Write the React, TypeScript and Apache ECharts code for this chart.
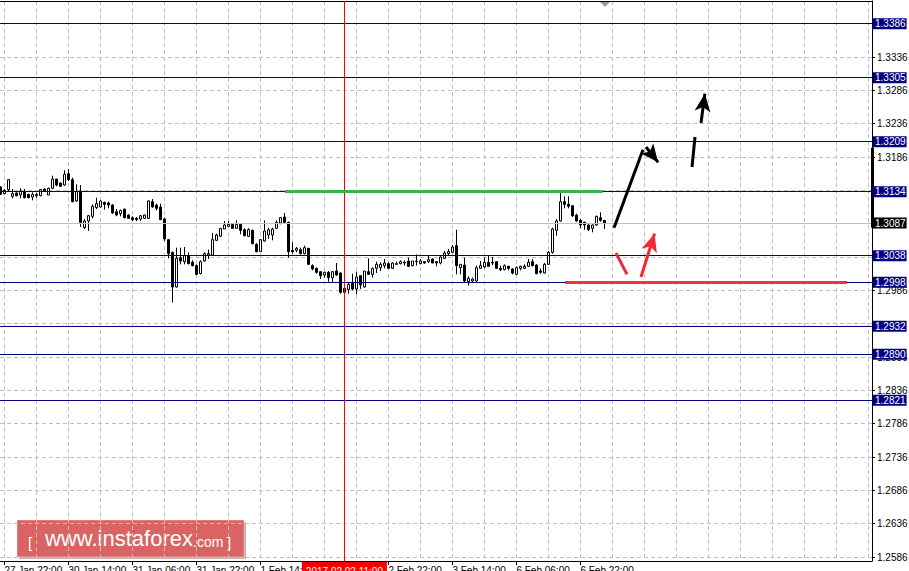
import React, { useEffect, useRef } from 'react';
import * as echarts from 'echarts';

// ---- Candles (H1), bar index 0 = 27 Jan 21:00 ----
const opens = [
  1.3141, 1.3131, 1.3137, 1.3127, 1.3132, 1.3129, 1.3134, 1.3130, 1.3126, 1.3128,
  1.3128, 1.3138, 1.3129, 1.3139, 1.3153, 1.3147, 1.3144, 1.3161, 1.3152, 1.3120,
  1.3135, 1.3080, 1.3090, 1.3097, 1.3110, 1.3111, 1.3118, 1.3117, 1.3114, 1.3104,
  1.3101, 1.3108, 1.3099, 1.3095, 1.3094, 1.3093, 1.3094, 1.3094, 1.3119, 1.3114,
  1.3111, 1.3093, 1.3062, 1.3043, 1.2991, 1.3035, 1.3029, 1.3038, 1.3028, 1.3023,
  1.3011, 1.3030, 1.3039, 1.3039, 1.3061, 1.3067, 1.3078, 1.3082, 1.3085, 1.3079,
  1.3085, 1.3077, 1.3067, 1.3076, 1.3055, 1.3044, 1.3060, 1.3069, 1.3069, 1.3079,
  1.3087, 1.3096, 1.3088, 1.3046, 1.3046, 1.3047, 1.3041, 1.3049, 1.3023, 1.3019,
  1.3014, 1.3009, 1.3013, 1.3005, 1.3015, 1.3012, 1.2989, 1.2987, 1.2997, 1.2988,
  1.3008, 1.2991, 1.3014, 1.3010, 1.3019, 1.3020, 1.3023, 1.3026, 1.3019, 1.3025,
  1.3026, 1.3028, 1.3030, 1.3023, 1.3030, 1.3026, 1.3029, 1.3029, 1.3033, 1.3029,
  1.3027, 1.3034, 1.3041, 1.3043, 1.3053, 1.3020, 1.3024, 1.2999, 1.3000, 1.3000,
  1.3019, 1.3021, 1.3028, 1.3028, 1.3029, 1.3019, 1.3017, 1.3022, 1.3018, 1.3010,
  1.3019, 1.3019, 1.3022, 1.3029, 1.3024, 1.3015, 1.3012, 1.3025, 1.3043, 1.3076,
  1.3090, 1.3119, 1.3115, 1.3113, 1.3099, 1.3091, 1.3088, 1.3084, 1.3079, 1.3084,
  1.3095, 1.3091,
];
const closes = [
  1.3130, 1.3136, 1.3152, 1.3131, 1.3128, 1.3135, 1.3125, 1.3125, 1.3130, 1.3130,
  1.3137, 1.3135, 1.3139, 1.3153, 1.3144, 1.3142, 1.3160, 1.3152, 1.3119, 1.3134,
  1.3088, 1.3090, 1.3098, 1.3112, 1.3116, 1.3120, 1.3115, 1.3114, 1.3102, 1.3099,
  1.3106, 1.3095, 1.3094, 1.3092, 1.3092, 1.3098, 1.3099, 1.3120, 1.3111, 1.3109,
  1.3092, 1.3063, 1.3041, 1.2991, 1.3034, 1.3030, 1.3038, 1.3026, 1.3023, 1.3010,
  1.3029, 1.3041, 1.3041, 1.3062, 1.3069, 1.3079, 1.3084, 1.3085, 1.3079, 1.3085,
  1.3076, 1.3068, 1.3077, 1.3056, 1.3044, 1.3062, 1.3075, 1.3077, 1.3078, 1.3088,
  1.3095, 1.3088, 1.3044, 1.3044, 1.3049, 1.3041, 1.3050, 1.3025, 1.3018, 1.3013,
  1.3008, 1.3013, 1.3005, 1.3014, 1.3009, 1.2983, 1.2983, 1.2995, 1.2988, 1.3006,
  1.2994, 1.3015, 1.3010, 1.3019, 1.3025, 1.3025, 1.3027, 1.3019, 1.3027, 1.3026,
  1.3029, 1.3027, 1.3022, 1.3030, 1.3029, 1.3030, 1.3027, 1.3032, 1.3027, 1.3027,
  1.3036, 1.3042, 1.3044, 1.3051, 1.3023, 1.3025, 1.3000, 1.3004, 1.3003, 1.3020,
  1.3023, 1.3028, 1.3022, 1.3027, 1.3019, 1.3017, 1.3023, 1.3019, 1.3012, 1.3020,
  1.3022, 1.3022, 1.3028, 1.3023, 1.3011, 1.3013, 1.3025, 1.3043, 1.3078, 1.3090,
  1.3119, 1.3115, 1.3112, 1.3098, 1.3090, 1.3084, 1.3084, 1.3077, 1.3084, 1.3097,
  1.3091, 1.3087,
];
const lows = [
  1.3129, 1.3130, 1.3135, 1.3124, 1.3127, 1.3124, 1.3124, 1.3124, 1.3121, 1.3125,
  1.3127, 1.3134, 1.3129, 1.3138, 1.3142, 1.3141, 1.3143, 1.3150, 1.3118, 1.3119,
  1.3081, 1.3078, 1.3075, 1.3094, 1.3108, 1.3110, 1.3107, 1.3109, 1.3101, 1.3097,
  1.3097, 1.3094, 1.3093, 1.3090, 1.3090, 1.3090, 1.3093, 1.3093, 1.3110, 1.3106,
  1.3092, 1.3060, 1.3034, 1.2968, 1.2990, 1.3025, 1.3025, 1.3025, 1.3022, 1.3009,
  1.3010, 1.3029, 1.3033, 1.3039, 1.3060, 1.3066, 1.3078, 1.3081, 1.3079, 1.3079,
  1.3070, 1.3067, 1.3066, 1.3055, 1.3043, 1.3044, 1.3059, 1.3063, 1.3061, 1.3078,
  1.3085, 1.3086, 1.3035, 1.3041, 1.3043, 1.3040, 1.3040, 1.3024, 1.3016, 1.3011,
  1.3003, 1.3005, 1.2999, 1.2998, 1.3008, 1.2981, 1.2981, 1.2981, 1.2986, 1.2980,
  1.2988, 1.2990, 1.3009, 1.3005, 1.3012, 1.3015, 1.3019, 1.3019, 1.3018, 1.3024,
  1.3025, 1.3023, 1.3021, 1.3022, 1.3023, 1.3025, 1.3026, 1.3027, 1.3027, 1.3022,
  1.3025, 1.3033, 1.3039, 1.3042, 1.3010, 1.3010, 1.2998, 1.2993, 1.2998, 1.2999,
  1.3018, 1.3019, 1.3021, 1.3024, 1.3018, 1.3015, 1.3016, 1.3016, 1.3010, 1.3010,
  1.3016, 1.3018, 1.3021, 1.3022, 1.3010, 1.3011, 1.3011, 1.3024, 1.3041, 1.3068,
  1.3089, 1.3109, 1.3109, 1.3096, 1.3089, 1.3079, 1.3077, 1.3075, 1.3073, 1.3083,
  1.3089, 1.3078,
];
const highs = [
  1.3142, 1.3138, 1.3153, 1.3138, 1.3133, 1.3139, 1.3138, 1.3131, 1.3133, 1.3132,
  1.3138, 1.3139, 1.3140, 1.3158, 1.3153, 1.3148, 1.3166, 1.3168, 1.3155, 1.3145,
  1.3144, 1.3093, 1.3099, 1.3115, 1.3125, 1.3121, 1.3119, 1.3119, 1.3115, 1.3108,
  1.3107, 1.3108, 1.3100, 1.3097, 1.3096, 1.3099, 1.3100, 1.3121, 1.3123, 1.3116,
  1.3116, 1.3095, 1.3063, 1.3044, 1.3050, 1.3050, 1.3051, 1.3043, 1.3031, 1.3025,
  1.3031, 1.3043, 1.3047, 1.3072, 1.3071, 1.3079, 1.3090, 1.3090, 1.3086, 1.3091,
  1.3086, 1.3079, 1.3079, 1.3077, 1.3057, 1.3063, 1.3091, 1.3080, 1.3080, 1.3091,
  1.3095, 1.3102, 1.3089, 1.3058, 1.3051, 1.3050, 1.3053, 1.3049, 1.3025, 1.3020,
  1.3014, 1.3014, 1.3015, 1.3015, 1.3027, 1.3013, 1.2990, 1.2997, 1.3011, 1.3014,
  1.3008, 1.3015, 1.3034, 1.3020, 1.3029, 1.3028, 1.3033, 1.3028, 1.3028, 1.3029,
  1.3031, 1.3031, 1.3035, 1.3030, 1.3040, 1.3033, 1.3029, 1.3038, 1.3034, 1.3030,
  1.3037, 1.3045, 1.3048, 1.3054, 1.3077, 1.3025, 1.3035, 1.3007, 1.3005, 1.3023,
  1.3030, 1.3035, 1.3038, 1.3036, 1.3029, 1.3023, 1.3025, 1.3023, 1.3019, 1.3022,
  1.3023, 1.3025, 1.3033, 1.3033, 1.3025, 1.3019, 1.3027, 1.3045, 1.3080, 1.3093,
  1.3133, 1.3127, 1.3127, 1.3114, 1.3101, 1.3093, 1.3089, 1.3085, 1.3085, 1.3098,
  1.3103, 1.3091,
];

// ---- Axes ----
const xTickBars = [1, 17, 33, 49, 65, 81, 97, 113, 129, 145];
const xLabelBars = [1, 17, 33, 49, 65, 97, 113, 129, 145];
const xLabelTexts = [
  '27 Jan 22:00', '30 Jan 14:00', '31 Jan 06:00', '31 Jan 22:00', '1 Feb 14:00',
  '2 Feb 22:00', '3 Feb 14:00', '6 Feb 06:00', '6 Feb 22:00',
];
const xGridBars = [1, 9, 17, 25, 33, 41, 49, 57, 65, 73, 81, 89, 97, 105, 113, 121, 129, 137, 145, 153, 161, 169, 177, 185, 193, 201, 209, 217];
const yTickValues = [1.2586, 1.2636, 1.2686, 1.2736, 1.2786, 1.2836, 1.2886, 1.2936, 1.2986, 1.3036, 1.3086, 1.3136, 1.3186, 1.3236, 1.3286, 1.3336, 1.3386];
const yLabelValues = [1.2586, 1.2636, 1.2686, 1.2736, 1.2786, 1.2836, 1.2886, 1.2986, 1.3186, 1.3236, 1.3286, 1.3336];

// ---- Levels & annotations ----
const levelPrices = [1.3386, 1.3305, 1.3209, 1.3134, 1.3038, 1.2998, 1.2932, 1.2890, 1.2821];
const bidPrice = 1.3087;
const cursorBar = 86;
const cursorText = '2017.02.02 11:00';
const resistanceSeg = [[71.15, 1.3134], [150.6, 1.3134]];
const supportSeg = [[141.15, 1.2998], [211.65, 1.2998]];
const blackStrokes = [
  [[153.4, 1.3080], [160.65, 1.3197]],
  [[172.9, 1.3171], [173.65, 1.3216]],
];
const blackArrows = [
  [[161.4, 1.3201], [164.43, 1.3178]],
  [[175.15, 1.3237], [176.12, 1.3281]],
];
const redStrokes = [[[153.9, 1.3042], [156.65, 1.3010]]];
const redArrows = [[[160.15, 1.3006], [163.55, 1.3071]]];
const axisMarker = [[217.9, 1.3080], [217.9, 1.3200]];

const X_MIN = -0.1;
const X_MAX = 217.9;
const Y_MIN = 1.258;
const Y_MAX = 1.342;

const FONT = '"Liberation Sans", Arial, sans-serif';
const NAVY = '#000080';
const FS = 10;

export default function App() {
  const ref = useRef<HTMLDivElement>(null);

  useEffect(() => {
    if (!ref.current) return;
    const chart = echarts.init(ref.current, undefined, { renderer: 'svg' });

    const candleData = opens.map((o, i) => [i, o, closes[i], lows[i], highs[i]]);

    const boxLabel = (text: string, bg: string) => ({
      show: true,
      position: 'end',
      formatter: text,
      backgroundColor: bg,
      color: '#ffffff',
      fontFamily: FONT,
      fontSize: FS,
      lineHeight: 10,
      padding: [1, 1, 0, 2],
      distance: 1,
    });

    const seg = (pts: number[][], color: string, width: number, arrow: boolean) => [
      { coord: pts[0], symbol: 'none', lineStyle: { color, width, type: 'solid' }, label: { show: false } },
      arrow
        ? { coord: pts[1], symbol: 'arrow', symbolSize: [12, 18] }
        : { coord: pts[1], symbol: 'none' },
    ];

    const markData: any[] = [
      ...levelPrices.map((p) => ({
        yAxis: p,
        lineStyle: { color: NAVY, width: 1, type: 'solid' },
        label: boxLabel(p.toFixed(4), NAVY),
      })),
      {
        yAxis: bidPrice,
        lineStyle: { color: '#c0c0c0', width: 1, type: 'solid' },
        label: boxLabel(bidPrice.toFixed(4), '#000000'),
      },
      {
        xAxis: cursorBar,
        lineStyle: { color: '#ff0000', width: 1, type: 'solid' },
        label: {
          show: true,
          position: 'start',
          formatter: cursorText,
          backgroundColor: '#ff0000',
          color: '#ffffff',
          fontFamily: FONT,
          fontSize: FS,
          lineHeight: 10,
          padding: [4, 4, 2, 4],
          distance: 1,
        },
      },
      seg(resistanceSeg, '#35b44a', 3, false),
      seg(supportSeg, '#ee3340', 3, false),
      ...blackStrokes.map((s) => seg(s, '#000000', 3, false)),
      ...blackArrows.map((s) => seg(s, '#000000', 3, true)),
      ...redStrokes.map((s) => seg(s, '#ee2a36', 3, false)),
      ...redArrows.map((s) => seg(s, '#ee2a36', 3, true)),
      seg(axisMarker, '#000000', 3, false),
    ];

    const option: any = {
      animation: false,
      backgroundColor: '#ffffff',
      textStyle: { fontFamily: FONT },
      grid: { left: 0, right: 37, top: 1, bottom: 10, containLabel: false, outerBoundsMode: 'none' },
      xAxis: [
        {
          type: 'value',
          min: X_MIN,
          max: X_MAX,
          position: 'bottom',
          axisLine: { show: true, onZero: false, lineStyle: { color: '#000', width: 1 } },
          axisTick: { show: true, customValues: xTickBars, length: 4, lineStyle: { color: '#000' } },
          axisLabel: {
            show: true,
            customValues: xLabelBars,
            formatter: (v: number) => {
              const i = xLabelBars.indexOf(Math.round(v));
              return i >= 0 ? xLabelTexts[i] : '';
            },
            align: 'left',
            margin: 4,
            color: '#000',
            fontFamily: FONT,
            fontSize: FS,
          },
          splitLine: { show: false },
        },
        {
          type: 'value',
          min: X_MIN,
          max: X_MAX,
          position: 'top',
          axisLine: { show: true, onZero: false, lineStyle: { color: '#000', width: 1 } },
          axisTick: { show: false, customValues: xGridBars },
          axisLabel: { show: false },
          splitLine: { show: true, lineStyle: { color: '#c0c0c0', width: 1, type: [4, 3] } },
        },
      ],
      yAxis: {
        type: 'value',
        position: 'right',
        min: Y_MIN,
        max: Y_MAX,
        axisLine: { show: true, onZero: false, lineStyle: { color: '#000', width: 1 } },
        axisTick: { show: true, customValues: yTickValues, length: 3, lineStyle: { color: '#000' } },
        axisLabel: {
          show: true,
          customValues: yLabelValues,
          formatter: (v: number) => v.toFixed(4),
          margin: 5,
          color: '#000',
          fontFamily: FONT,
          fontSize: FS,
        },
        splitLine: { show: true, lineStyle: { color: '#c0c0c0', width: 1, type: [4, 3] } },
      },
      series: [
        {
          type: 'candlestick',
          xAxisIndex: 0,
          yAxisIndex: 0,
          data: candleData,
          barWidth: 3,
          itemStyle: {
            color: '#ffffff',
            color0: '#000000',
            borderColor: '#000000',
            borderColor0: '#000000',
            borderWidth: 1,
          },
          markLine: {
            silent: true,
            precision: 6,
            symbol: ['none', 'none'],
            animation: false,
            label: { show: false },
            data: markData,
          },
        },
      ],
      graphic: [
        {
          type: 'polygon',
          shape: { points: [[599, 1], [611, 1], [605, 7]] },
          style: { fill: '#a0a0a0' },
          silent: true,
        },
        {
          type: 'group',
          x: 17,
          y: 520,
          silent: true,
          children: [
            { type: 'rect', shape: { x: 2, y: 2, width: 227, height: 37 }, style: { fill: 'rgba(90,30,30,0.35)' } },
            { type: 'rect', shape: { x: 0, y: 0, width: 227, height: 37 }, style: { fill: '#da6464', stroke: 'rgba(255,255,255,0.35)', lineWidth: 1 } },
            { type: 'text', x: 11, y: 22.5, style: { text: '[', fill: '#ffffff', font: '15px "Liberation Sans", Arial, sans-serif', verticalAlign: 'middle' } },
            { type: 'text', x: 28, y: 18.5, style: { text: 'www.instaforex', fill: '#ffffff', font: '22px "Liberation Sans", Arial, sans-serif', verticalAlign: 'middle' } },
            { type: 'text', x: 176, y: 21.5, style: { text: '.com', fill: '#ffffff', font: '14px "Liberation Sans", Arial, sans-serif', verticalAlign: 'middle' } },
            { type: 'text', x: 210, y: 22.5, style: { text: ']', fill: '#ffffff', font: '15px "Liberation Sans", Arial, sans-serif', verticalAlign: 'middle' } },
          ],
        },
      ],
    };

    chart.setOption(option);
    return () => chart.dispose();
  }, []);

  return (
    <div
      ref={ref}
      style={{ position: 'fixed', left: 0, top: 0, width: 909, height: 571, background: '#fff' }}
    />
  );
}
